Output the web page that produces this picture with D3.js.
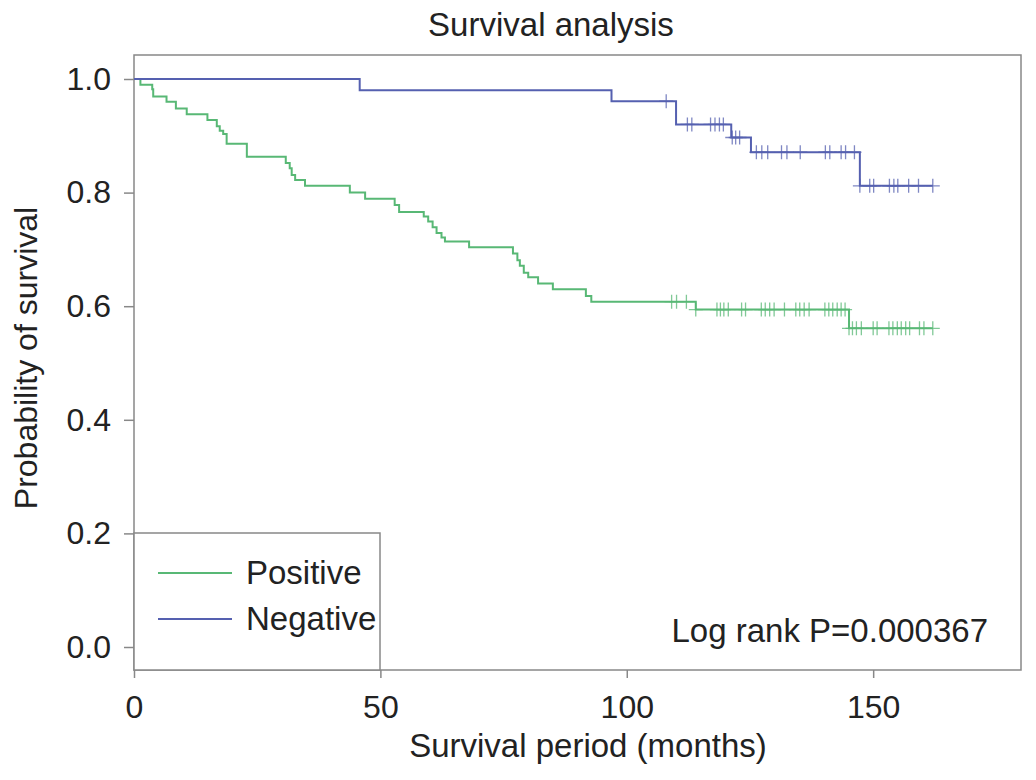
<!DOCTYPE html>
<html>
<head>
<meta charset="utf-8">
<script src="https://cdn.jsdelivr.net/npm/d3@7"></script>
<style>
  body { margin: 0; background: #fff; }
  svg { font-family: "Liberation Sans", Arial, sans-serif; }
</style>
</head>
<body>
<svg id="chart" width="1036" height="780"></svg>
<script>
// Kaplan-Meier steps: [months, survival after the drop]
const positiveSteps = [
  [1.3, 0.990], [3.7, 0.982], [3.9, 0.969], [6.6, 0.960], [8.5, 0.948],
  [10.7, 0.938], [14.9, 0.928], [16.8, 0.917], [17.4, 0.909], [18.1, 0.903],
  [18.8, 0.886], [22.9, 0.863], [30.8, 0.852], [31.6, 0.843], [32.0, 0.831],
  [32.7, 0.822], [34.7, 0.812], [43.8, 0.800], [46.9, 0.789], [52.9, 0.778],
  [53.8, 0.766], [58.8, 0.758], [59.7, 0.749], [60.6, 0.739], [61.4, 0.729],
  [62.4, 0.721], [63.1, 0.714], [68.0, 0.704], [76.9, 0.693], [77.8, 0.681],
  [78.3, 0.671], [79.1, 0.659], [80.0, 0.651], [82.0, 0.640], [85.0, 0.630],
  [91.7, 0.618], [92.8, 0.608], [114.0, 0.594], [145.1, 0.561]
];
const positiveCensored = [
  109.1, 110.1, 112.1, 114.0, 118.3, 119.0, 119.7, 120.6, 123.3, 124.1,
  127.3, 128.1, 129.0, 129.9, 132.0, 134.3, 135.1, 136.0, 137.0, 140.2,
  141.0, 141.8, 142.7, 143.5, 144.3, 145.1, 145.8, 146.6, 147.6, 150.0,
  150.8, 153.2, 154.0, 154.9, 155.7, 156.6, 157.4, 159.4, 160.3, 162.1
];

const negativeSteps = [
  [45.8, 0.980], [96.9, 0.961], [110.0, 0.920], [121.2, 0.897],
  [125.2, 0.871], [147.3, 0.812]
];
const negativeCensored = [
  108.0, 112.3, 113.2, 117.0, 117.9, 118.8, 119.6, 121.4, 122.1, 122.9,
  126.3, 127.4, 128.6, 131.4, 132.5, 135.2, 140.3, 141.2, 143.5, 144.4,
  146.2, 147.3, 149.3, 150.1, 153.3, 154.2, 155.0, 157.2, 159.2, 162.1
];

const followUpEnd = 162.1;
const xTicks = [0, 50, 100, 150];
const yTicks = [0, 0.2, 0.4, 0.6, 0.8, 1.0];

const groups = [
  { name: "Positive", steps: positiveSteps, censored: positiveCensored, color: "#58b875" },
  { name: "Negative", steps: negativeSteps, censored: negativeCensored, color: "#5560b0" }
];

const svg = d3.select("#chart"),
      m   = { top: 55, right: 15, bottom: 110, left: 134 },
      iw  = 1036 - m.left - m.right,
      ih  = 780 - m.top - m.bottom;

const x = d3.scaleLinear().domain([0, 180]).range([0, iw]);
const y = d3.scaleLinear().domain([0, 1]).range([592, 24]);

const g = svg.append("g")
    .attr("transform", `translate(${m.left},${m.top})`);

// axes
const yAxis = g.append("g")
    .call(d3.axisLeft(y).tickValues(yTicks).tickFormat(d3.format(".1f"))
      .tickSize(10).tickPadding(13));
const xAxis = g.append("g")
    .attr("transform", `translate(0,${ih})`)
    .call(d3.axisBottom(x).tickValues(xTicks).tickSize(8).tickPadding(17));

[xAxis, yAxis].forEach(a => {
  a.select(".domain").remove();
  a.selectAll("line").attr("stroke", "#888").attr("stroke-width", 1.5);
  a.selectAll("text")
    .attr("fill", "#222")
    .style("font-size", "32px")
    .style("font-family", "'Liberation Sans', Arial, sans-serif");
});

// frame
g.append("rect")
  .attr("width", iw).attr("height", ih)
  .attr("fill", "none")
  .attr("stroke", "#888")
  .attr("stroke-width", 1.5);

// survival curves
const line = d3.line()
  .x(d => x(d[0]))
  .y(d => y(d[1]))
  .curve(d3.curveStepAfter);

function survivalAt(steps, t) {
  let s = 1;
  steps.forEach(d => { if (d[0] <= t) s = d[1]; });
  return s;
}

groups.forEach(grp => {
  const pts = [[0, 1], ...grp.steps, [followUpEnd, grp.steps[grp.steps.length - 1][1]]];
  g.append("path")
    .datum(pts)
    .attr("d", line)
    .attr("fill", "none")
    .attr("stroke", grp.color)
    .attr("stroke-width", 2);

  g.append("g").selectAll("path")
    .data(grp.censored).enter().append("path")
      .attr("transform", t => `translate(${x(t)},${y(survivalAt(grp.steps, t))})`)
      .attr("d", "M-7,0H7M0,-7V7")
      .attr("stroke", grp.color)
      .attr("stroke-width", 1.3)
      .attr("opacity", 0.75);
});

// legend
const legend = g.append("g");
legend.append("rect")
  .attr("x", 0).attr("y", 478)
  .attr("width", 246).attr("height", ih - 478)
  .attr("fill", "#fff")
  .attr("stroke", "#888")
  .attr("stroke-width", 1.5);

groups.forEach((grp, i) => {
  const row = legend.append("g")
    .attr("transform", `translate(0,${518 + i * 46})`);
  row.append("line")
    .attr("x1", 24).attr("x2", 98)
    .attr("stroke", grp.color)
    .attr("stroke-width", 1.8);
  row.append("text")
    .attr("x", 112).attr("y", 11)
    .attr("fill", "#222")
    .style("font-size", "33px")
    .text(grp.name);
});

// p-value
g.append("text")
  .attr("x", 854).attr("y", 587)
  .attr("text-anchor", "end")
  .attr("fill", "#222")
  .style("font-size", "33px")
  .text("Log rank P=0.000367");

// title and axis labels
svg.append("text")
  .attr("x", 551).attr("y", 36)
  .attr("text-anchor", "middle")
  .attr("fill", "#222")
  .style("font-size", "33px")
  .text("Survival analysis");

svg.append("text")
  .attr("x", 588).attr("y", 757)
  .attr("text-anchor", "middle")
  .attr("fill", "#222")
  .style("font-size", "33px")
  .text("Survival period (months)");

svg.append("text")
  .attr("transform", "translate(37,358) rotate(-90)")
  .attr("text-anchor", "middle")
  .attr("fill", "#222")
  .style("font-size", "32px")
  .text("Probability of survival");
</script>
</body>
</html>
